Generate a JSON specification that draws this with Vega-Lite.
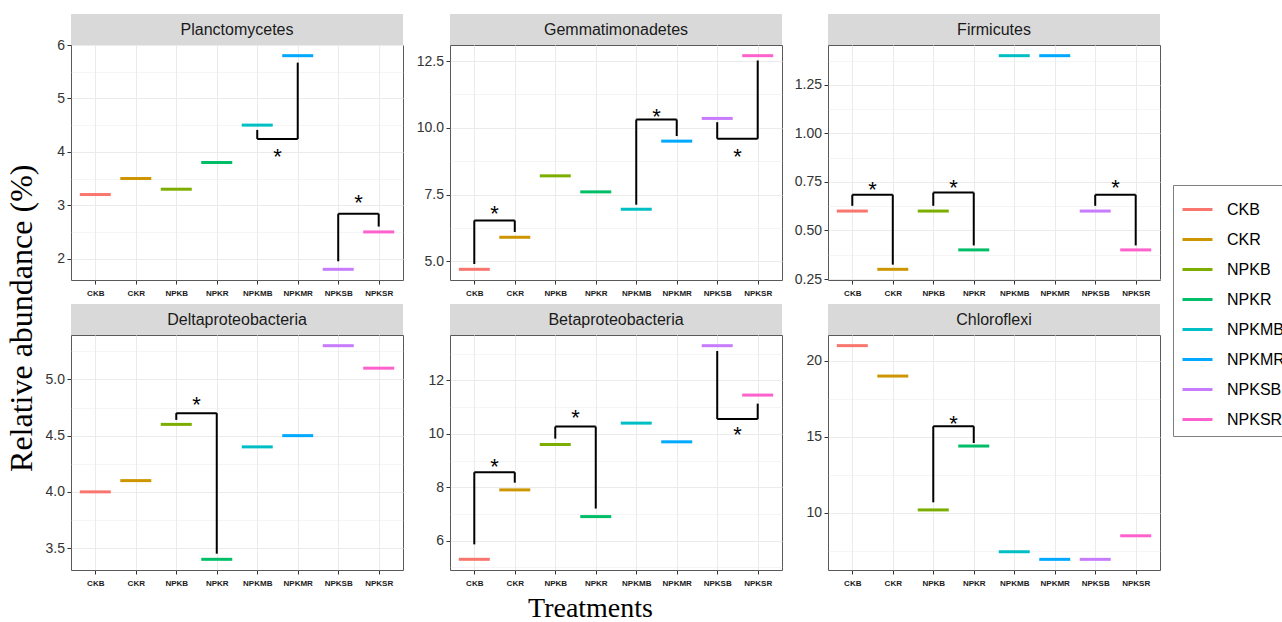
{
"$schema": "https://vega.github.io/schema/vega-lite/v6.json",
"background": "white",
"padding": {"left": 5, "top": 14, "right": 5, "bottom": 0},
"title": {"text": "Relative abundance (%)", "orient": "left", "anchor": "middle", "font": "Liberation Serif", "fontSize": 32, "fontWeight": "normal", "color": "black", "offset": -8},
"datasets": {
"vals": [
{"p":"Planctomycetes","trt":"CKB","v":3.2},{"p":"Planctomycetes","trt":"CKR","v":3.5},{"p":"Planctomycetes","trt":"NPKB","v":3.3},{"p":"Planctomycetes","trt":"NPKR","v":3.8},{"p":"Planctomycetes","trt":"NPKMB","v":4.5},{"p":"Planctomycetes","trt":"NPKMR","v":5.8},{"p":"Planctomycetes","trt":"NPKSB","v":1.8},{"p":"Planctomycetes","trt":"NPKSR","v":2.5},
{"p":"Gemmatimonadetes","trt":"CKB","v":4.7},{"p":"Gemmatimonadetes","trt":"CKR","v":5.9},{"p":"Gemmatimonadetes","trt":"NPKB","v":8.2},{"p":"Gemmatimonadetes","trt":"NPKR","v":7.6},{"p":"Gemmatimonadetes","trt":"NPKMB","v":6.95},{"p":"Gemmatimonadetes","trt":"NPKMR","v":9.5},{"p":"Gemmatimonadetes","trt":"NPKSB","v":10.35},{"p":"Gemmatimonadetes","trt":"NPKSR","v":12.7},
{"p":"Firmicutes","trt":"CKB","v":0.6},{"p":"Firmicutes","trt":"CKR","v":0.3},{"p":"Firmicutes","trt":"NPKB","v":0.6},{"p":"Firmicutes","trt":"NPKR","v":0.4},{"p":"Firmicutes","trt":"NPKMB","v":1.4},{"p":"Firmicutes","trt":"NPKMR","v":1.4},{"p":"Firmicutes","trt":"NPKSB","v":0.6},{"p":"Firmicutes","trt":"NPKSR","v":0.4},
{"p":"Deltaproteobacteria","trt":"CKB","v":4.0},{"p":"Deltaproteobacteria","trt":"CKR","v":4.1},{"p":"Deltaproteobacteria","trt":"NPKB","v":4.6},{"p":"Deltaproteobacteria","trt":"NPKR","v":3.4},{"p":"Deltaproteobacteria","trt":"NPKMB","v":4.4},{"p":"Deltaproteobacteria","trt":"NPKMR","v":4.5},{"p":"Deltaproteobacteria","trt":"NPKSB","v":5.3},{"p":"Deltaproteobacteria","trt":"NPKSR","v":5.1},
{"p":"Betaproteobacteria","trt":"CKB","v":5.3},{"p":"Betaproteobacteria","trt":"CKR","v":7.9},{"p":"Betaproteobacteria","trt":"NPKB","v":9.6},{"p":"Betaproteobacteria","trt":"NPKR","v":6.9},{"p":"Betaproteobacteria","trt":"NPKMB","v":10.4},{"p":"Betaproteobacteria","trt":"NPKMR","v":9.7},{"p":"Betaproteobacteria","trt":"NPKSB","v":13.3},{"p":"Betaproteobacteria","trt":"NPKSR","v":11.45},
{"p":"Chloroflexi","trt":"CKB","v":21.0},{"p":"Chloroflexi","trt":"CKR","v":19.0},{"p":"Chloroflexi","trt":"NPKB","v":10.2},{"p":"Chloroflexi","trt":"NPKR","v":14.4},{"p":"Chloroflexi","trt":"NPKMB","v":7.45},{"p":"Chloroflexi","trt":"NPKMR","v":6.95},{"p":"Chloroflexi","trt":"NPKSB","v":6.95},{"p":"Chloroflexi","trt":"NPKSR","v":8.5}
],
"brk": [
{"p":"Planctomycetes","xa":"NPKMB","xb":"NPKMB","ya":4.41,"yb":4.24},{"p":"Planctomycetes","xa":"NPKMB","xb":"NPKMR","ya":4.24,"yb":4.24},{"p":"Planctomycetes","xa":"NPKMR","xb":"NPKMR","ya":4.24,"yb":5.67},
{"p":"Planctomycetes","xa":"NPKSB","xb":"NPKSB","ya":1.95,"yb":2.84},{"p":"Planctomycetes","xa":"NPKSB","xb":"NPKSR","ya":2.84,"yb":2.84},{"p":"Planctomycetes","xa":"NPKSR","xb":"NPKSR","ya":2.84,"yb":2.6},
{"p":"Gemmatimonadetes","xa":"CKB","xb":"CKB","ya":4.9,"yb":6.53},{"p":"Gemmatimonadetes","xa":"CKB","xb":"CKR","ya":6.53,"yb":6.53},{"p":"Gemmatimonadetes","xa":"CKR","xb":"CKR","ya":6.53,"yb":6.1},
{"p":"Gemmatimonadetes","xa":"NPKMB","xb":"NPKMB","ya":7.12,"yb":10.31},{"p":"Gemmatimonadetes","xa":"NPKMB","xb":"NPKMR","ya":10.31,"yb":10.31},{"p":"Gemmatimonadetes","xa":"NPKMR","xb":"NPKMR","ya":10.31,"yb":9.69},
{"p":"Gemmatimonadetes","xa":"NPKSB","xb":"NPKSB","ya":10.21,"yb":9.59},{"p":"Gemmatimonadetes","xa":"NPKSB","xb":"NPKSR","ya":9.59,"yb":9.59},{"p":"Gemmatimonadetes","xa":"NPKSR","xb":"NPKSR","ya":9.59,"yb":12.52},
{"p":"Firmicutes","xa":"CKB","xb":"CKB","ya":0.627,"yb":0.684},{"p":"Firmicutes","xa":"CKB","xb":"CKR","ya":0.684,"yb":0.684},{"p":"Firmicutes","xa":"CKR","xb":"CKR","ya":0.684,"yb":0.324},
{"p":"Firmicutes","xa":"NPKB","xb":"NPKB","ya":0.627,"yb":0.695},{"p":"Firmicutes","xa":"NPKB","xb":"NPKR","ya":0.695,"yb":0.695},{"p":"Firmicutes","xa":"NPKR","xb":"NPKR","ya":0.695,"yb":0.423},
{"p":"Firmicutes","xa":"NPKSB","xb":"NPKSB","ya":0.627,"yb":0.684},{"p":"Firmicutes","xa":"NPKSB","xb":"NPKSR","ya":0.684,"yb":0.684},{"p":"Firmicutes","xa":"NPKSR","xb":"NPKSR","ya":0.684,"yb":0.423},
{"p":"Deltaproteobacteria","xa":"NPKB","xb":"NPKB","ya":4.64,"yb":4.7},{"p":"Deltaproteobacteria","xa":"NPKB","xb":"NPKR","ya":4.7,"yb":4.7},{"p":"Deltaproteobacteria","xa":"NPKR","xb":"NPKR","ya":4.7,"yb":3.45},
{"p":"Betaproteobacteria","xa":"CKB","xb":"CKB","ya":5.86,"yb":8.56},{"p":"Betaproteobacteria","xa":"CKB","xb":"CKR","ya":8.56,"yb":8.56},{"p":"Betaproteobacteria","xa":"CKR","xb":"CKR","ya":8.56,"yb":8.17},
{"p":"Betaproteobacteria","xa":"NPKB","xb":"NPKB","ya":9.82,"yb":10.27},{"p":"Betaproteobacteria","xa":"NPKB","xb":"NPKR","ya":10.27,"yb":10.27},{"p":"Betaproteobacteria","xa":"NPKR","xb":"NPKR","ya":10.27,"yb":7.2},
{"p":"Betaproteobacteria","xa":"NPKSB","xb":"NPKSB","ya":13.1,"yb":10.55},{"p":"Betaproteobacteria","xa":"NPKSB","xb":"NPKSR","ya":10.55,"yb":10.55},{"p":"Betaproteobacteria","xa":"NPKSR","xb":"NPKSR","ya":10.55,"yb":11.13},
{"p":"Chloroflexi","xa":"NPKB","xb":"NPKB","ya":10.7,"yb":15.7},{"p":"Chloroflexi","xa":"NPKB","xb":"NPKR","ya":15.7,"yb":15.7},{"p":"Chloroflexi","xa":"NPKR","xb":"NPKR","ya":15.7,"yb":14.6}
],
"ast": [
{"p":"Planctomycetes","xa":"NPKMB","y":4.0,"s":"*"},{"p":"Planctomycetes","xa":"NPKSB","y":3.14,"s":"*"},
{"p":"Gemmatimonadetes","xa":"CKB","y":6.97,"s":"*"},{"p":"Gemmatimonadetes","xa":"NPKMB","y":10.62,"s":"*"},{"p":"Gemmatimonadetes","xa":"NPKSB","y":9.1,"s":"*"},
{"p":"Firmicutes","xa":"CKB","y":0.735,"s":"*"},{"p":"Firmicutes","xa":"NPKB","y":0.747,"s":"*"},{"p":"Firmicutes","xa":"NPKSB","y":0.747,"s":"*"},
{"p":"Deltaproteobacteria","xa":"NPKB","y":4.82,"s":"*"},
{"p":"Betaproteobacteria","xa":"CKB","y":8.95,"s":"*"},{"p":"Betaproteobacteria","xa":"NPKB","y":10.78,"s":"*"},{"p":"Betaproteobacteria","xa":"NPKSB","y":10.15,"s":"*"},
{"p":"Chloroflexi","xa":"NPKB","y":16.2,"s":"*"}
]
},
"spacing": 6,
"vconcat": [
{"spacing": 5, "hconcat": [
{"spacing": 0, "bounds": "flush", "vconcat": [
{"width": 332, "height": 31, "view": {"fill": "#d9d9d9"}, "data": {"values": [{"label": "Planctomycetes"}]}, "mark": {"type": "text", "font": "Liberation Sans", "fontSize": 16, "color": "#1a1a1a"}, "encoding": {"text": {"field": "label", "type": "nominal"}}},
{"width": 332, "height": 235, "resolve": {"axis": {"x": "independent", "y": "independent"}}, "layer": [
{"data": {"name": "vals"}, "transform": [{"filter": {"field": "p", "equal": "Planctomycetes"}}], "mark": {"type": "rule", "strokeWidth": 3, "xOffset": -15.5, "x2Offset": 15.5},
 "encoding": {"x": {"field": "trt", "type": "nominal", "title": null, "scale": {"type": "point", "domain": ["CKB","CKR","NPKB","NPKR","NPKMB","NPKMR","NPKSB","NPKSR"], "padding": 0.6}, "axis": {"orient": "bottom", "grid": true, "labelAngle": 0}}, "x2": {"field": "trt"},
 "y": {"field": "v", "type": "quantitative", "title": null, "scale": {"domain": [1.6, 6.0], "nice": false, "zero": false}, "axis": {"orient": "left", "values": [2,3,4,5,6], "format": "d", "grid": true, "minExtent": 40}},
 "color": {"field": "trt", "type": "nominal", "title": null, "scale": {"domain": ["CKB","CKR","NPKB","NPKR","NPKMB","NPKMR","NPKSB","NPKSR"], "range": ["#F8766D","#CD9600","#7CAE00","#00BE67","#00BFC4","#00A9FF","#C77CFF","#FF61CC"]}}}},
{"data": {"name": "brk"}, "transform": [{"filter": {"field": "p", "equal": "Planctomycetes"}}], "mark": {"type": "rule", "color": "black", "strokeWidth": 2},
 "encoding": {"x": {"field": "xa", "type": "nominal", "title": null, "scale": {"type": "point", "domain": ["CKB","CKR","NPKB","NPKR","NPKMB","NPKMR","NPKSB","NPKSR"], "padding": 0.6}, "axis": null}, "x2": {"field": "xb"},
 "y": {"field": "ya", "type": "quantitative", "title": null, "scale": {"domain": [1.6, 6.0], "nice": false, "zero": false}, "axis": {"orient": "right", "values": [2.5,3.5,4.5,5.5], "grid": true, "gridWidth": 0.5, "labels": false, "ticks": false, "domain": false, "minExtent": 0, "maxExtent": 0}}, "y2": {"field": "yb"}}},
{"data": {"name": "ast"}, "transform": [{"filter": {"field": "p", "equal": "Planctomycetes"}}], "mark": {"type": "text", "font": "Liberation Sans", "fontSize": 22, "color": "black", "dx": 20.2, "dy": 5.5},
 "encoding": {"x": {"field": "xa", "type": "nominal", "title": null, "scale": {"type": "point", "domain": ["CKB","CKR","NPKB","NPKR","NPKMB","NPKMR","NPKSB","NPKSR"], "padding": 0.6}, "axis": null},
 "y": {"field": "y", "type": "quantitative", "title": null, "scale": {"domain": [1.6, 6.0], "nice": false, "zero": false}, "axis": null}, "text": {"field": "s", "type": "nominal"}}}
]}
]},
{"spacing": 0, "bounds": "flush", "vconcat": [
{"width": 332, "height": 31, "view": {"fill": "#d9d9d9"}, "data": {"values": [{"label": "Gemmatimonadetes"}]}, "mark": {"type": "text", "font": "Liberation Sans", "fontSize": 16, "color": "#1a1a1a"}, "encoding": {"text": {"field": "label", "type": "nominal"}}},
{"width": 332, "height": 235, "resolve": {"axis": {"x": "independent", "y": "independent"}}, "layer": [
{"data": {"name": "vals"}, "transform": [{"filter": {"field": "p", "equal": "Gemmatimonadetes"}}], "mark": {"type": "rule", "strokeWidth": 3, "xOffset": -15.5, "x2Offset": 15.5},
 "encoding": {"x": {"field": "trt", "type": "nominal", "title": null, "scale": {"type": "point", "domain": ["CKB","CKR","NPKB","NPKR","NPKMB","NPKMR","NPKSB","NPKSR"], "padding": 0.6}, "axis": {"orient": "bottom", "grid": true, "labelAngle": 0}}, "x2": {"field": "trt"},
 "y": {"field": "v", "type": "quantitative", "title": null, "scale": {"domain": [4.3, 13.1], "nice": false, "zero": false}, "axis": {"orient": "left", "values": [5,7.5,10,12.5], "format": ".1f", "grid": true, "minExtent": 40}},
 "color": {"field": "trt", "type": "nominal", "title": null, "scale": {"domain": ["CKB","CKR","NPKB","NPKR","NPKMB","NPKMR","NPKSB","NPKSR"], "range": ["#F8766D","#CD9600","#7CAE00","#00BE67","#00BFC4","#00A9FF","#C77CFF","#FF61CC"]}}}},
{"data": {"name": "brk"}, "transform": [{"filter": {"field": "p", "equal": "Gemmatimonadetes"}}], "mark": {"type": "rule", "color": "black", "strokeWidth": 2},
 "encoding": {"x": {"field": "xa", "type": "nominal", "title": null, "scale": {"type": "point", "domain": ["CKB","CKR","NPKB","NPKR","NPKMB","NPKMR","NPKSB","NPKSR"], "padding": 0.6}, "axis": null}, "x2": {"field": "xb"},
 "y": {"field": "ya", "type": "quantitative", "title": null, "scale": {"domain": [4.3, 13.1], "nice": false, "zero": false}, "axis": {"orient": "right", "values": [6.25,8.75,11.25], "grid": true, "gridWidth": 0.5, "labels": false, "ticks": false, "domain": false, "minExtent": 0, "maxExtent": 0}}, "y2": {"field": "yb"}}},
{"data": {"name": "ast"}, "transform": [{"filter": {"field": "p", "equal": "Gemmatimonadetes"}}], "mark": {"type": "text", "font": "Liberation Sans", "fontSize": 22, "color": "black", "dx": 20.2, "dy": 5.5},
 "encoding": {"x": {"field": "xa", "type": "nominal", "title": null, "scale": {"type": "point", "domain": ["CKB","CKR","NPKB","NPKR","NPKMB","NPKMR","NPKSB","NPKSR"], "padding": 0.6}, "axis": null},
 "y": {"field": "y", "type": "quantitative", "title": null, "scale": {"domain": [4.3, 13.1], "nice": false, "zero": false}, "axis": null}, "text": {"field": "s", "type": "nominal"}}}
]}
]},
{"spacing": 0, "bounds": "flush", "vconcat": [
{"width": 332, "height": 31, "view": {"fill": "#d9d9d9"}, "data": {"values": [{"label": "Firmicutes"}]}, "mark": {"type": "text", "font": "Liberation Sans", "fontSize": 16, "color": "#1a1a1a"}, "encoding": {"text": {"field": "label", "type": "nominal"}}},
{"width": 332, "height": 235, "resolve": {"axis": {"x": "independent", "y": "independent"}}, "layer": [
{"data": {"name": "vals"}, "transform": [{"filter": {"field": "p", "equal": "Firmicutes"}}], "mark": {"type": "rule", "strokeWidth": 3, "xOffset": -15.5, "x2Offset": 15.5},
 "encoding": {"x": {"field": "trt", "type": "nominal", "title": null, "scale": {"type": "point", "domain": ["CKB","CKR","NPKB","NPKR","NPKMB","NPKMR","NPKSB","NPKSR"], "padding": 0.6}, "axis": {"orient": "bottom", "grid": true, "labelAngle": 0}}, "x2": {"field": "trt"},
 "y": {"field": "v", "type": "quantitative", "title": null, "scale": {"domain": [0.245, 1.455], "nice": false, "zero": false}, "axis": {"orient": "left", "values": [0.25,0.5,0.75,1.0,1.25], "format": ".2f", "grid": true, "minExtent": 39}},
 "color": {"field": "trt", "type": "nominal", "title": null, "scale": {"domain": ["CKB","CKR","NPKB","NPKR","NPKMB","NPKMR","NPKSB","NPKSR"], "range": ["#F8766D","#CD9600","#7CAE00","#00BE67","#00BFC4","#00A9FF","#C77CFF","#FF61CC"]}}}},
{"data": {"name": "brk"}, "transform": [{"filter": {"field": "p", "equal": "Firmicutes"}}], "mark": {"type": "rule", "color": "black", "strokeWidth": 2},
 "encoding": {"x": {"field": "xa", "type": "nominal", "title": null, "scale": {"type": "point", "domain": ["CKB","CKR","NPKB","NPKR","NPKMB","NPKMR","NPKSB","NPKSR"], "padding": 0.6}, "axis": null}, "x2": {"field": "xb"},
 "y": {"field": "ya", "type": "quantitative", "title": null, "scale": {"domain": [0.245, 1.455], "nice": false, "zero": false}, "axis": {"orient": "right", "values": [0.375,0.625,0.875,1.125,1.375], "grid": true, "gridWidth": 0.5, "labels": false, "ticks": false, "domain": false, "minExtent": 0, "maxExtent": 0}}, "y2": {"field": "yb"}}},
{"data": {"name": "ast"}, "transform": [{"filter": {"field": "p", "equal": "Firmicutes"}}], "mark": {"type": "text", "font": "Liberation Sans", "fontSize": 22, "color": "black", "dx": 20.2, "dy": 5.5},
 "encoding": {"x": {"field": "xa", "type": "nominal", "title": null, "scale": {"type": "point", "domain": ["CKB","CKR","NPKB","NPKR","NPKMB","NPKMR","NPKSB","NPKSR"], "padding": 0.6}, "axis": null},
 "y": {"field": "y", "type": "quantitative", "title": null, "scale": {"domain": [0.245, 1.455], "nice": false, "zero": false}, "axis": null}, "text": {"field": "s", "type": "nominal"}}}
]}
]}
]},
{"spacing": 5, "title": {"text": "Treatments", "orient": "bottom", "anchor": "middle", "font": "Liberation Serif", "fontSize": 28, "fontWeight": "normal", "color": "black", "offset": 7, "dx": -5}, "hconcat": [
{"spacing": 0, "bounds": "flush", "vconcat": [
{"width": 332, "height": 31, "view": {"fill": "#d9d9d9"}, "data": {"values": [{"label": "Deltaproteobacteria"}]}, "mark": {"type": "text", "font": "Liberation Sans", "fontSize": 16, "color": "#1a1a1a"}, "encoding": {"text": {"field": "label", "type": "nominal"}}},
{"width": 332, "height": 235, "resolve": {"axis": {"x": "independent", "y": "independent"}}, "layer": [
{"data": {"name": "vals"}, "transform": [{"filter": {"field": "p", "equal": "Deltaproteobacteria"}}], "mark": {"type": "rule", "strokeWidth": 3, "xOffset": -15.5, "x2Offset": 15.5},
 "encoding": {"x": {"field": "trt", "type": "nominal", "title": null, "scale": {"type": "point", "domain": ["CKB","CKR","NPKB","NPKR","NPKMB","NPKMR","NPKSB","NPKSR"], "padding": 0.6}, "axis": {"orient": "bottom", "grid": true, "labelAngle": 0}}, "x2": {"field": "trt"},
 "y": {"field": "v", "type": "quantitative", "title": null, "scale": {"domain": [3.305, 5.395], "nice": false, "zero": false}, "axis": {"orient": "left", "values": [3.5,4.0,4.5,5.0], "format": ".1f", "grid": true, "minExtent": 40}},
 "color": {"field": "trt", "type": "nominal", "title": null, "scale": {"domain": ["CKB","CKR","NPKB","NPKR","NPKMB","NPKMR","NPKSB","NPKSR"], "range": ["#F8766D","#CD9600","#7CAE00","#00BE67","#00BFC4","#00A9FF","#C77CFF","#FF61CC"]}}}},
{"data": {"name": "brk"}, "transform": [{"filter": {"field": "p", "equal": "Deltaproteobacteria"}}], "mark": {"type": "rule", "color": "black", "strokeWidth": 2},
 "encoding": {"x": {"field": "xa", "type": "nominal", "title": null, "scale": {"type": "point", "domain": ["CKB","CKR","NPKB","NPKR","NPKMB","NPKMR","NPKSB","NPKSR"], "padding": 0.6}, "axis": null}, "x2": {"field": "xb"},
 "y": {"field": "ya", "type": "quantitative", "title": null, "scale": {"domain": [3.305, 5.395], "nice": false, "zero": false}, "axis": {"orient": "right", "values": [3.75,4.25,4.75,5.25], "grid": true, "gridWidth": 0.5, "labels": false, "ticks": false, "domain": false, "minExtent": 0, "maxExtent": 0}}, "y2": {"field": "yb"}}},
{"data": {"name": "ast"}, "transform": [{"filter": {"field": "p", "equal": "Deltaproteobacteria"}}], "mark": {"type": "text", "font": "Liberation Sans", "fontSize": 22, "color": "black", "dx": 20.2, "dy": 5.5},
 "encoding": {"x": {"field": "xa", "type": "nominal", "title": null, "scale": {"type": "point", "domain": ["CKB","CKR","NPKB","NPKR","NPKMB","NPKMR","NPKSB","NPKSR"], "padding": 0.6}, "axis": null},
 "y": {"field": "y", "type": "quantitative", "title": null, "scale": {"domain": [3.305, 5.395], "nice": false, "zero": false}, "axis": null}, "text": {"field": "s", "type": "nominal"}}}
]}
]},
{"spacing": 0, "bounds": "flush", "vconcat": [
{"width": 332, "height": 31, "view": {"fill": "#d9d9d9"}, "data": {"values": [{"label": "Betaproteobacteria"}]}, "mark": {"type": "text", "font": "Liberation Sans", "fontSize": 16, "color": "#1a1a1a"}, "encoding": {"text": {"field": "label", "type": "nominal"}}},
{"width": 332, "height": 235, "resolve": {"axis": {"x": "independent", "y": "independent"}}, "layer": [
{"data": {"name": "vals"}, "transform": [{"filter": {"field": "p", "equal": "Betaproteobacteria"}}], "mark": {"type": "rule", "strokeWidth": 3, "xOffset": -15.5, "x2Offset": 15.5},
 "encoding": {"x": {"field": "trt", "type": "nominal", "title": null, "scale": {"type": "point", "domain": ["CKB","CKR","NPKB","NPKR","NPKMB","NPKMR","NPKSB","NPKSR"], "padding": 0.6}, "axis": {"orient": "bottom", "grid": true, "labelAngle": 0}}, "x2": {"field": "trt"},
 "y": {"field": "v", "type": "quantitative", "title": null, "scale": {"domain": [4.9, 13.7], "nice": false, "zero": false}, "axis": {"orient": "left", "values": [6,8,10,12], "format": "d", "grid": true, "minExtent": 40}},
 "color": {"field": "trt", "type": "nominal", "title": null, "scale": {"domain": ["CKB","CKR","NPKB","NPKR","NPKMB","NPKMR","NPKSB","NPKSR"], "range": ["#F8766D","#CD9600","#7CAE00","#00BE67","#00BFC4","#00A9FF","#C77CFF","#FF61CC"]}}}},
{"data": {"name": "brk"}, "transform": [{"filter": {"field": "p", "equal": "Betaproteobacteria"}}], "mark": {"type": "rule", "color": "black", "strokeWidth": 2},
 "encoding": {"x": {"field": "xa", "type": "nominal", "title": null, "scale": {"type": "point", "domain": ["CKB","CKR","NPKB","NPKR","NPKMB","NPKMR","NPKSB","NPKSR"], "padding": 0.6}, "axis": null}, "x2": {"field": "xb"},
 "y": {"field": "ya", "type": "quantitative", "title": null, "scale": {"domain": [4.9, 13.7], "nice": false, "zero": false}, "axis": {"orient": "right", "values": [5,7,9,11,13], "grid": true, "gridWidth": 0.5, "labels": false, "ticks": false, "domain": false, "minExtent": 0, "maxExtent": 0}}, "y2": {"field": "yb"}}},
{"data": {"name": "ast"}, "transform": [{"filter": {"field": "p", "equal": "Betaproteobacteria"}}], "mark": {"type": "text", "font": "Liberation Sans", "fontSize": 22, "color": "black", "dx": 20.2, "dy": 5.5},
 "encoding": {"x": {"field": "xa", "type": "nominal", "title": null, "scale": {"type": "point", "domain": ["CKB","CKR","NPKB","NPKR","NPKMB","NPKMR","NPKSB","NPKSR"], "padding": 0.6}, "axis": null},
 "y": {"field": "y", "type": "quantitative", "title": null, "scale": {"domain": [4.9, 13.7], "nice": false, "zero": false}, "axis": null}, "text": {"field": "s", "type": "nominal"}}}
]}
]},
{"spacing": 0, "bounds": "flush", "vconcat": [
{"width": 332, "height": 31, "view": {"fill": "#d9d9d9"}, "data": {"values": [{"label": "Chloroflexi"}]}, "mark": {"type": "text", "font": "Liberation Sans", "fontSize": 16, "color": "#1a1a1a"}, "encoding": {"text": {"field": "label", "type": "nominal"}}},
{"width": 332, "height": 235, "resolve": {"axis": {"x": "independent", "y": "independent"}}, "layer": [
{"data": {"name": "vals"}, "transform": [{"filter": {"field": "p", "equal": "Chloroflexi"}}], "mark": {"type": "rule", "strokeWidth": 3, "xOffset": -15.5, "x2Offset": 15.5},
 "encoding": {"x": {"field": "trt", "type": "nominal", "title": null, "scale": {"type": "point", "domain": ["CKB","CKR","NPKB","NPKR","NPKMB","NPKMR","NPKSB","NPKSR"], "padding": 0.6}, "axis": {"orient": "bottom", "grid": true, "labelAngle": 0}}, "x2": {"field": "trt"},
 "y": {"field": "v", "type": "quantitative", "title": null, "scale": {"domain": [6.25, 21.7], "nice": false, "zero": false}, "axis": {"orient": "left", "values": [10,15,20], "format": "d", "grid": true, "minExtent": 39}},
 "color": {"field": "trt", "type": "nominal", "title": null, "scale": {"domain": ["CKB","CKR","NPKB","NPKR","NPKMB","NPKMR","NPKSB","NPKSR"], "range": ["#F8766D","#CD9600","#7CAE00","#00BE67","#00BFC4","#00A9FF","#C77CFF","#FF61CC"]}}}},
{"data": {"name": "brk"}, "transform": [{"filter": {"field": "p", "equal": "Chloroflexi"}}], "mark": {"type": "rule", "color": "black", "strokeWidth": 2},
 "encoding": {"x": {"field": "xa", "type": "nominal", "title": null, "scale": {"type": "point", "domain": ["CKB","CKR","NPKB","NPKR","NPKMB","NPKMR","NPKSB","NPKSR"], "padding": 0.6}, "axis": null}, "x2": {"field": "xb"},
 "y": {"field": "ya", "type": "quantitative", "title": null, "scale": {"domain": [6.25, 21.7], "nice": false, "zero": false}, "axis": {"orient": "right", "values": [7.5,12.5,17.5], "grid": true, "gridWidth": 0.5, "labels": false, "ticks": false, "domain": false, "minExtent": 0, "maxExtent": 0}}, "y2": {"field": "yb"}}},
{"data": {"name": "ast"}, "transform": [{"filter": {"field": "p", "equal": "Chloroflexi"}}], "mark": {"type": "text", "font": "Liberation Sans", "fontSize": 22, "color": "black", "dx": 20.2, "dy": 5.5},
 "encoding": {"x": {"field": "xa", "type": "nominal", "title": null, "scale": {"type": "point", "domain": ["CKB","CKR","NPKB","NPKR","NPKMB","NPKMR","NPKSB","NPKSR"], "padding": 0.6}, "axis": null},
 "y": {"field": "y", "type": "quantitative", "title": null, "scale": {"domain": [6.25, 21.7], "nice": false, "zero": false}, "axis": null}, "text": {"field": "s", "type": "nominal"}}}
]}
]}
]}
],
"config": {
 "view": {"stroke": "#595959", "strokeWidth": 1},
 "axis": {"labelFont": "Liberation Sans", "labelColor": "#333333", "tickColor": "#333333", "tickSize": 4, "domain": false, "gridColor": "#ebebeb", "gridWidth": 1},
 "axisX": {"labelFontSize": 8, "labelFontWeight": "bold", "labelColor": "#1a1a1a", "labelPadding": 5, "labelAngle": 0, "labelOverlap": false},
 "axisY": {"labelFontSize": 14, "labelPadding": 2.5},
 "legend": {"orient": "none", "legendX": 1102, "legendY": 171, "symbolType": "stroke", "symbolSize": 900, "symbolStrokeWidth": 3, "labelFont": "Liberation Sans", "labelFontSize": 16, "labelColor": "black", "labelOffset": 13, "rowPadding": 5, "padding": 8, "strokeColor": "#7f7f7f", "labelLimit": 300}
}
}
